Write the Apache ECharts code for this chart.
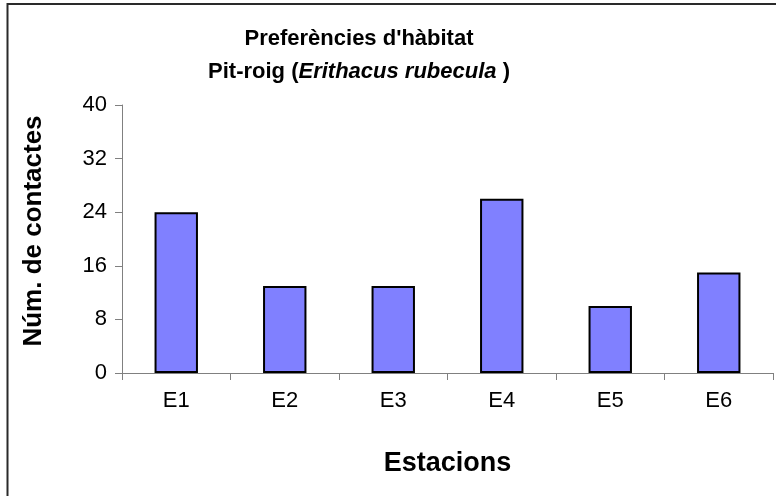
<!DOCTYPE html>
<html>
<head>
<meta charset="utf-8">
<script src="https://cdn.jsdelivr.net/npm/echarts@6/dist/echarts.min.js"></script>
<style>
  html, body { margin: 0; padding: 0; background: #fff; }
  #chart { width: 776px; height: 496px; }
</style>
</head>
<body>
<div id="chart"></div>
<script>
// Robin (Pit-roig) contacts per sampling station
const stations = ['E1', 'E2', 'E3', 'E4', 'E5', 'E6'];
const contacts = [24, 13, 13, 26, 10, 15];
const yTicks = { min: 0, max: 40, step: 8 };

const FONT = '"Liberation Sans", Arial, sans-serif';
const chart = echarts.init(document.getElementById('chart'), null, { renderer: 'canvas' });

chart.setOption({
  backgroundColor: '#ffffff',
  animation: false,
  graphic: [{
    type: 'rect',
    shape: { x: 7.5, y: 4, width: 820, height: 620 },
    style: { fill: 'none', stroke: '#2a2a2a', lineWidth: 2 },
    silent: true,
    z: -1
  }],
  title: {
    text: "Preferències d'hàbitat\n{b|Pit-roig (}{i|Erithacus rubecula}{b| )}",
    left: 354,
    top: 17,
    textAlign: 'center',
    textStyle: {
      fontFamily: FONT,
      fontWeight: 'bold',
      fontSize: 22,
      color: '#000',
      lineHeight: 33,
      rich: {
        b: { fontFamily: FONT, fontWeight: 'bold', fontSize: 22, color: '#000', lineHeight: 33 },
        i: { fontFamily: FONT, fontWeight: 'bold', fontStyle: 'italic', fontSize: 22, color: '#000', lineHeight: 33 }
      }
    }
  },
  grid: { left: 122, right: 3, top: 105, bottom: 123, containLabel: false },
  xAxis: {
    type: 'category',
    data: stations,
    name: 'Estacions',
    nameLocation: 'middle',
    nameGap: 77,
    nameTextStyle: { fontFamily: FONT, fontWeight: 'bold', fontSize: 27, color: '#000' },
    axisLine: { lineStyle: { color: '#808080', width: 1 } },
    axisTick: { show: true, length: 7, lineStyle: { color: '#808080' } },
    axisLabel: { fontFamily: FONT, fontSize: 22, color: '#000', margin: 17 },
    splitLine: { show: false }
  },
  yAxis: {
    type: 'value',
    min: yTicks.min,
    max: yTicks.max,
    interval: yTicks.step,
    name: 'Núm. de contactes',
    nameLocation: 'middle',
    nameGap: 75,
    nameTextStyle: { fontFamily: FONT, fontWeight: 'bold', fontSize: 26, color: '#000', padding: [0, 0, 0, 16] },
    axisLine: { show: true, lineStyle: { color: '#808080', width: 1 } },
    axisTick: { show: true, length: 7, lineStyle: { color: '#808080' } },
    axisLabel: { fontFamily: FONT, fontSize: 22, color: '#000', margin: 15 },
    splitLine: { show: false }
  },
  series: [{
    type: 'bar',
    data: contacts,
    barWidth: '40%',
    itemStyle: { color: '#8080ff', borderColor: '#000', borderWidth: 2 }
  }]
});
</script>
</body>
</html>
